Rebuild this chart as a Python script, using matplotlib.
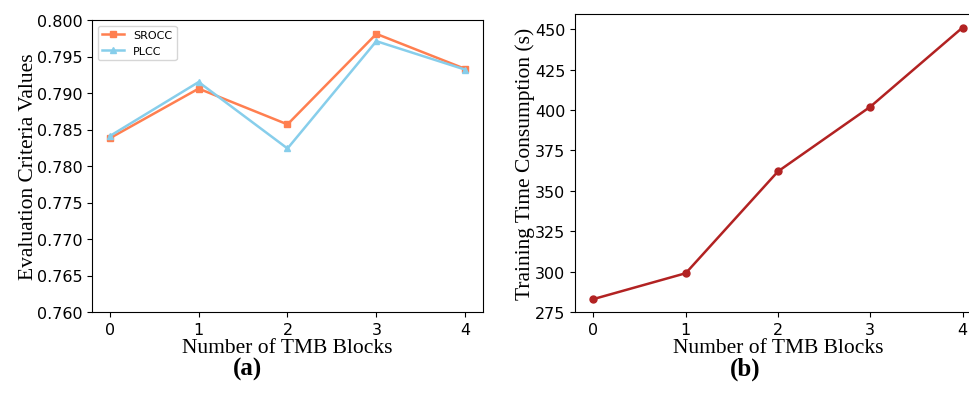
import matplotlib
matplotlib.use('Agg')
import matplotlib.pyplot as plt

# number of TMB blocks
blocks = [0, 1, 2, 3, 4]

# evaluation criteria
srocc = [0.7838, 0.7906, 0.7857, 0.7981, 0.7933]
plcc = [0.7841, 0.7915, 0.7824, 0.7971, 0.7932]

# training time (s)
train_time = [283, 299, 362, 402, 451]

serif = 'Liberation Serif'

fig = plt.figure(figsize=(9.7, 4.1), dpi=100)

# (a) criteria vs blocks
ax1 = fig.add_axes([92 / 970, 97 / 410, 391 / 970, 292 / 410])
ax1.plot(blocks, srocc, color='coral', marker='s', markersize=5, linewidth=1.8, label='SROCC')
ax1.plot(blocks, plcc, color='skyblue', marker='^', markersize=5, linewidth=1.8, label='PLCC')
ax1.set_ylim(0.76, 0.80)
ax1.set_yticks([0.76 + 0.005 * i for i in range(9)])
ax1.set_xticks(blocks)
ax1.tick_params(labelsize=11.5)
ax1.set_xlabel('Number of TMB Blocks', fontfamily=serif, fontsize=15.5, labelpad=1)
ax1.set_ylabel('Evaluation Criteria Values', fontfamily=serif, fontsize=15.5, labelpad=-1)
ax1.legend(loc='upper left', fontsize=8)

# (b) training time vs blocks
ax2 = fig.add_axes([575 / 970, 97 / 410, 406 / 970, 298 / 410])
ax2.plot(blocks, train_time, color='firebrick', marker='o', markersize=5, linewidth=1.8)
ax2.set_ylim(275, 459.4)
ax2.set_yticks([275 + 25 * i for i in range(8)])
ax2.set_xticks(blocks)
ax2.tick_params(labelsize=11.5)
ax2.set_xlabel('Number of TMB Blocks', fontfamily=serif, fontsize=15.5, labelpad=1)
ax2.set_ylabel('Training Time Consumption (s)', fontfamily=serif, fontsize=15.5, labelpad=0)

fig.text(248 / 970, 1 - 369 / 410, '(a)', ha='center', va='center', fontfamily=serif, fontsize=18, fontweight='bold')
fig.text(745 / 970, 1 - 369 / 410, '(b)', ha='center', va='center', fontfamily=serif, fontsize=18, fontweight='bold')

fig.savefig('out.png', dpi=100)
